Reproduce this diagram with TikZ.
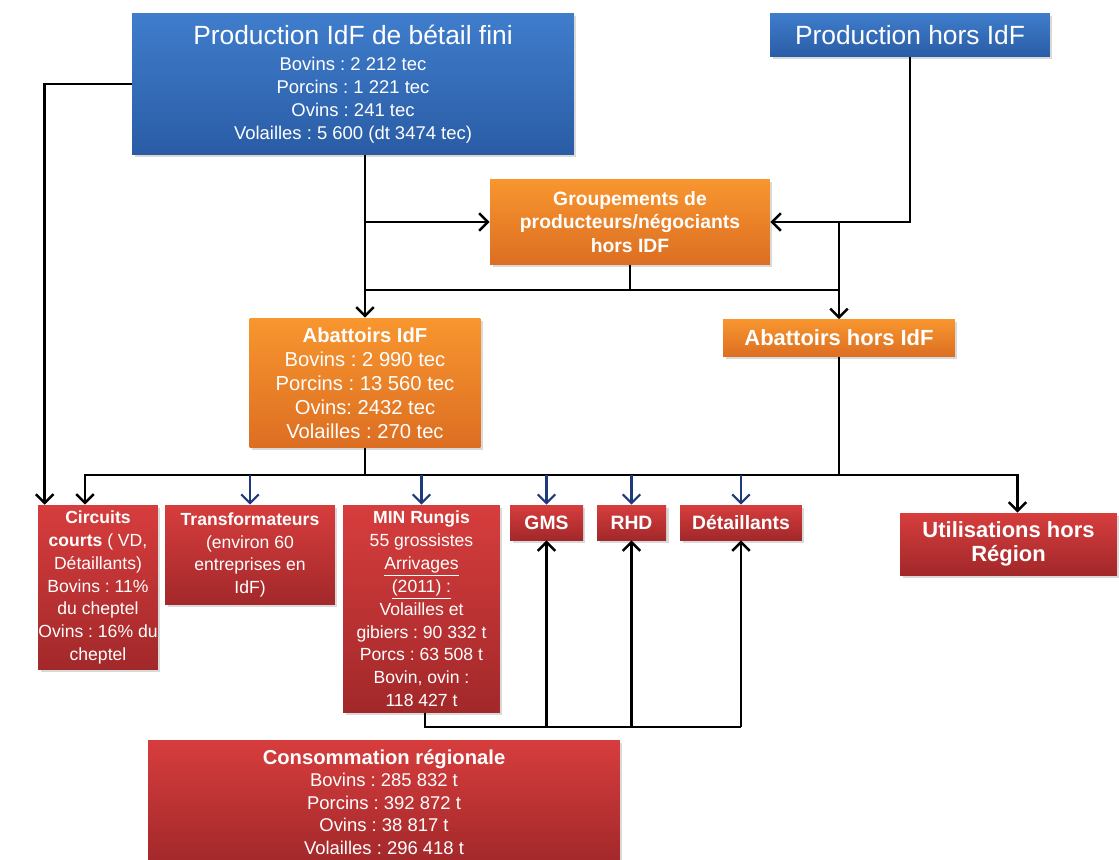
\documentclass[tikz,border=0pt]{standalone}
\usepackage{fontspec}
\setmainfont{Liberation Sans}
\frenchspacing
\usetikzlibrary{arrows.meta,shadows}

\definecolor{boxblue}{HTML}{3F7DCC}
\definecolor{boxbluedk}{HTML}{2A5CA5}
\definecolor{boxorange}{HTML}{F8962F}
\definecolor{boxorangedk}{HTML}{DC6E22}
\definecolor{boxred}{HTML}{D73D3D}
\definecolor{boxreddk}{HTML}{A2282A}
\definecolor{linknavy}{HTML}{1C3A7C}

\tikzset{
  box/.style={text=white, align=center, inner sep=0pt,
    drop shadow={opacity=0.3,shadow xshift=0.05cm,shadow yshift=-0.05cm}},
  bluebox/.style={box, top color=boxblue, bottom color=boxbluedk},
  orangebox/.style={box, top color=boxorange, bottom color=boxorangedk},
  redbox/.style={box, top color=boxred, bottom color=boxreddk},
  link/.style={line width=1.4pt},
  arr/.style={link, -{Straight Barb[length=5pt,width=10pt]}},
  bluearr/.style={draw=linknavy, line width=1.2pt, -{Straight Barb[length=5pt,width=10pt]}},
}

\begin{document}
\begin{tikzpicture}[x=0.02cm,y=-0.02cm]
\useasboundingbox (0,0) rectangle (1119,859);

% sources
\node[bluebox, minimum width=8.84cm, minimum height=2.84cm,
  font=\fontsize{10.5}{13}\selectfont] (prodIdF) at (353,84)
  {{\fontsize{15}{15}\selectfont Production IdF de bétail fini}\\[2pt]
   Bovins : 2 212 tec\\Porcins : 1 221 tec\\Ovins : 241 tec\\Volailles : 5 600 (dt 3474 tec)};
\node[bluebox, minimum width=5.6cm, minimum height=0.88cm,
  font=\fontsize{15}{15}\selectfont] (prodHors) at (910,35) {Production hors IdF};

% intermediaires
\node[orangebox, minimum width=5.6cm, minimum height=1.7cm,
  font=\bfseries\fontsize{11}{13.5}\selectfont] (grp) at (630,222)
  {Groupements de\\producteurs/négociants\\hors IDF};
\node[orangebox, minimum width=4.62cm, minimum height=2.6cm,
  font=\fontsize{11.5}{13.6}\selectfont] (abatIdF) at (365,383)
  {\textbf{Abattoirs IdF}\\Bovins : 2 990 tec\\Porcins : 13 560 tec\\Ovins: 2432 tec\\Volailles : 270 tec};
\node[orangebox, minimum width=4.64cm, minimum height=0.74cm,
  font=\bfseries\fontsize{12.5}{14}\selectfont] (abatHors) at (839,338) {Abattoirs hors IdF};

% debouches
\node[redbox, minimum width=2.4cm, minimum height=3.3cm,
  font=\fontsize{10}{13}\selectfont] (circuits) at (98,587.5)
  {\textbf{Circuits}\\\textbf{courts} ( VD,\\Détaillants)\\Bovins : 11\%\\du cheptel\\Ovins : 16\% du\\cheptel};
\node[redbox, minimum width=3.4cm, minimum height=2cm,
  font=\fontsize{10}{13}\selectfont] (transfo) at (250,555)
  {\textbf{Transformateurs}\\(environ 60\\entreprises en\\IdF)};
\node[redbox, minimum width=3.14cm, minimum height=4.16cm,
  font=\fontsize{10}{13}\selectfont] (rungis) at (421.5,609)
  {\textbf{MIN Rungis}\\55 grossistes\\\underline{Arrivages}\\\underline{(2011) :}\\Volailles et\\gibiers : 90 332 t\\Porcs : 63 508 t\\Bovin, ovin :\\118 427 t};
\node[redbox, minimum width=1.46cm, minimum height=0.7cm,
  font=\bfseries\fontsize{11}{13}\selectfont] (gms) at (546.5,522.5) {GMS};
\node[redbox, minimum width=1.38cm, minimum height=0.7cm,
  font=\bfseries\fontsize{11}{13}\selectfont] (rhd) at (631.5,522.5) {RHD};
\node[redbox, minimum width=2.44cm, minimum height=0.7cm,
  font=\bfseries\fontsize{11}{13}\selectfont] (detail) at (741,522.5) {Détaillants};
\node[redbox, minimum width=4.34cm, minimum height=1.24cm,
  font=\bfseries\fontsize{12.5}{13.6}\selectfont] (util) at (1008.5,544)
  {Utilisations hors\\Région};
\node[redbox, minimum width=9.44cm, minimum height=2.48cm,
  font=\fontsize{10.5}{12.8}\selectfont] (conso) at (384,802)
  {{\bfseries\fontsize{11.5}{12.8}\selectfont Consommation régionale}\\Bovins : 285 832 t\\Porcins : 392 872 t\\Ovins : 38 817 t\\Volailles : 296 418 t};

\coordinate (mid) at (630,290);
\coordinate (bus) at (365,475);
\coordinate (low) at (425,727);

% flux du haut
\draw[arr] (prodIdF.west) -| ([xshift=0.14cm]circuits.north west);
\draw[arr] (prodIdF.south -| abatIdF.north) -- (abatIdF.north);
\draw[arr] (abatIdF.north |- grp.west) -- (grp.west);
\draw[arr] (prodHors.south) |- (grp.east);
\draw[arr] (abatHors.north |- grp.east) -- (abatHors.north);
\draw[link] (grp.south) -- (mid);
\draw[link] (abatIdF.north |- mid) -- (abatHors.north |- mid);

% flux du bas
\draw[link] (abatIdF.south) -- (bus);
\draw[link] (abatHors.south) -- (abatHors.south |- bus);
\draw[arr] (bus) -| ([xshift=-0.26cm]circuits.north);
\draw[arr] (bus) -| ([xshift=0.18cm]util.north);
\foreach \n in {transfo,rungis,gms,rhd,detail}
  \draw[bluearr] (\n.north |- bus) -- (\n.north);

% Rungis vers GMS, RHD, detaillants
\draw[link] (rungis.south -| low) -- (low) -- (detail.south |- low);
\foreach \n in {gms,rhd,detail}
  \draw[arr] (\n.south |- low) -- (\n.south);
\end{tikzpicture}
\end{document}
